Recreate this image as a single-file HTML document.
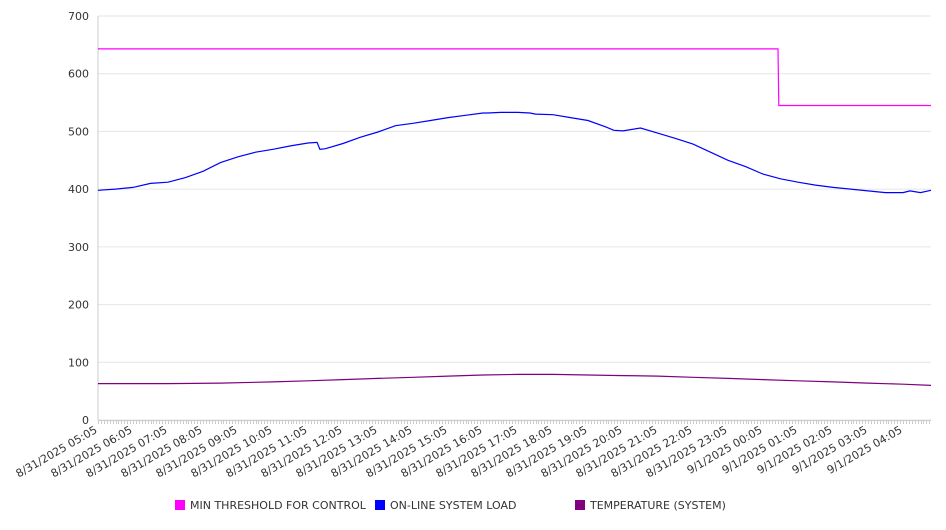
<!DOCTYPE html>
<html><head><meta charset="utf-8"><style>
body{margin:0;background:#fff;font-family:"DejaVu Sans","Liberation Sans",sans-serif;}
svg text{font-family:"DejaVu Sans","Liberation Sans",sans-serif;fill:#333;}
</style></head><body>
<svg id="chart" width="946" height="526" xmlns="http://www.w3.org/2000/svg"></svg>
<script>
// hours since 8/31/2025 05:05
const loadHours=[0,0.5,1,1.5,2,2.5,3,3.5,4,4.5,5,5.5,6,6.26,6.34,6.5,7,7.5,8,8.5,9,9.5,10,10.5,11,11.14,11.5,12,12.34,12.5,13,13.5,14,14.5,14.74,15,15.5,16,16.5,17,17.5,18,18.5,19,19.5,20,20.5,21,21.5,22,22.5,23,23.2,23.5,23.8];
const loadValues=[398,400,403,410,412,420,431,446,456,464,469,475,480,481,469,470,479,490,499,510,514,519,524,528,532,532,533,533,532,530,529,524,519,508,502,501,506,497,488,478,464,450,439,426,418,412,407,403,400,397,394,394,397,394,398];
const thrHours=[0,19.43,19.45,23.8];
const thrValues=[643,643,545,545];
const tempHours=[0,2,3.5,5,6,7,8,9,10,11,12,13,14,15,16,17,18,19,20,21,22,23,23.8];
const tempValues=[63,63,64,66,68,70,72,74,76,78,79,79,78,77,76,74,72,70,68,66,64,62,60];
const yTicks=[0,100,200,300,400,500,600,700];
const xLabels=["8/31/2025 05:05","8/31/2025 06:05","8/31/2025 07:05","8/31/2025 08:05","8/31/2025 09:05","8/31/2025 10:05","8/31/2025 11:05","8/31/2025 12:05","8/31/2025 13:05","8/31/2025 14:05","8/31/2025 15:05","8/31/2025 16:05","8/31/2025 17:05","8/31/2025 18:05","8/31/2025 19:05","8/31/2025 20:05","8/31/2025 21:05","8/31/2025 22:05","8/31/2025 23:05","9/1/2025 00:05","9/1/2025 01:05","9/1/2025 02:05","9/1/2025 03:05","9/1/2025 04:05"];
const legendNames=["MIN THRESHOLD FOR CONTROL","ON-LINE SYSTEM LOAD","TEMPERATURE (SYSTEM)"];
const legendColors=["#ff00ff","#0000ff","#800080"];

const NS="http://www.w3.org/2000/svg";
const svg=document.getElementById('chart');
const X0=98,X1=931,Y0=420,Y1=16,HMAX=23.8;
function xs(h){return X0+h*35;}
function ys(v){return Y0-(v/700)*(Y0-Y1);}
function mk(t,a){const e=document.createElementNS(NS,t);for(const k in a)e.setAttribute(k,a[k]);svg.appendChild(e);return e;}

yTicks.forEach(v=>{
  const g=mk('line',{x1:X0,x2:X1,y1:ys(v),y2:ys(v),stroke:'#e6e6e6','stroke-width':1});
  
  
  const t=mk('text',{x:89,y:ys(v)+4,'font-size':11,'text-anchor':'end'});
  t.textContent=v;
  
  
});
const ax=mk('line',{x1:X0,x2:X0,y1:Y1,y2:Y0,stroke:'#ccc'});


const xa=mk('line',{x1:X0,x2:X1,y1:Y0+0.5,y2:Y0+0.5,stroke:'#ccc'});


let d='';
for(let m=0;m<=HMAX*60;m+=5){const x=Math.round(xs(m/60))+0.5;d+=`M${x},${Y0} v4 `;}
const tk=mk('path',{d:d,stroke:'#ccc','stroke-width':1});



xLabels.forEach((s,i)=>{
  const x=xs(i),y=Y0+12;
  const t=mk('text',{x:x,y:y,'font-size':11,'text-anchor':'end',transform:`rotate(-30 ${x} ${y})`});
  t.textContent=s;
  
  
});

function line(hs,vs,c,name){
  const p=hs.map((h,i)=>(i?'L':'M')+xs(h).toFixed(1)+','+ys(vs[i]).toFixed(1)).join(' ');
  const e=mk('path',{d:p,fill:'none',stroke:c,'stroke-width':1.2});
  
  
}
line(thrHours,thrValues,legendColors[0],'threshold-line');
line(loadHours,loadValues,legendColors[1],'system-load-line');
line(tempHours,tempValues,legendColors[2],'temperature-line');

const lx=[175,375,575];
legendNames.forEach((n,i)=>{
  const r=mk('rect',{x:lx[i],y:500,width:10,height:10,fill:legendColors[i]});
  
  
  const t=mk('text',{x:lx[i]+15,y:509,'font-size':11});
  t.textContent=n;
  
  
});
</script>
</body></html>
